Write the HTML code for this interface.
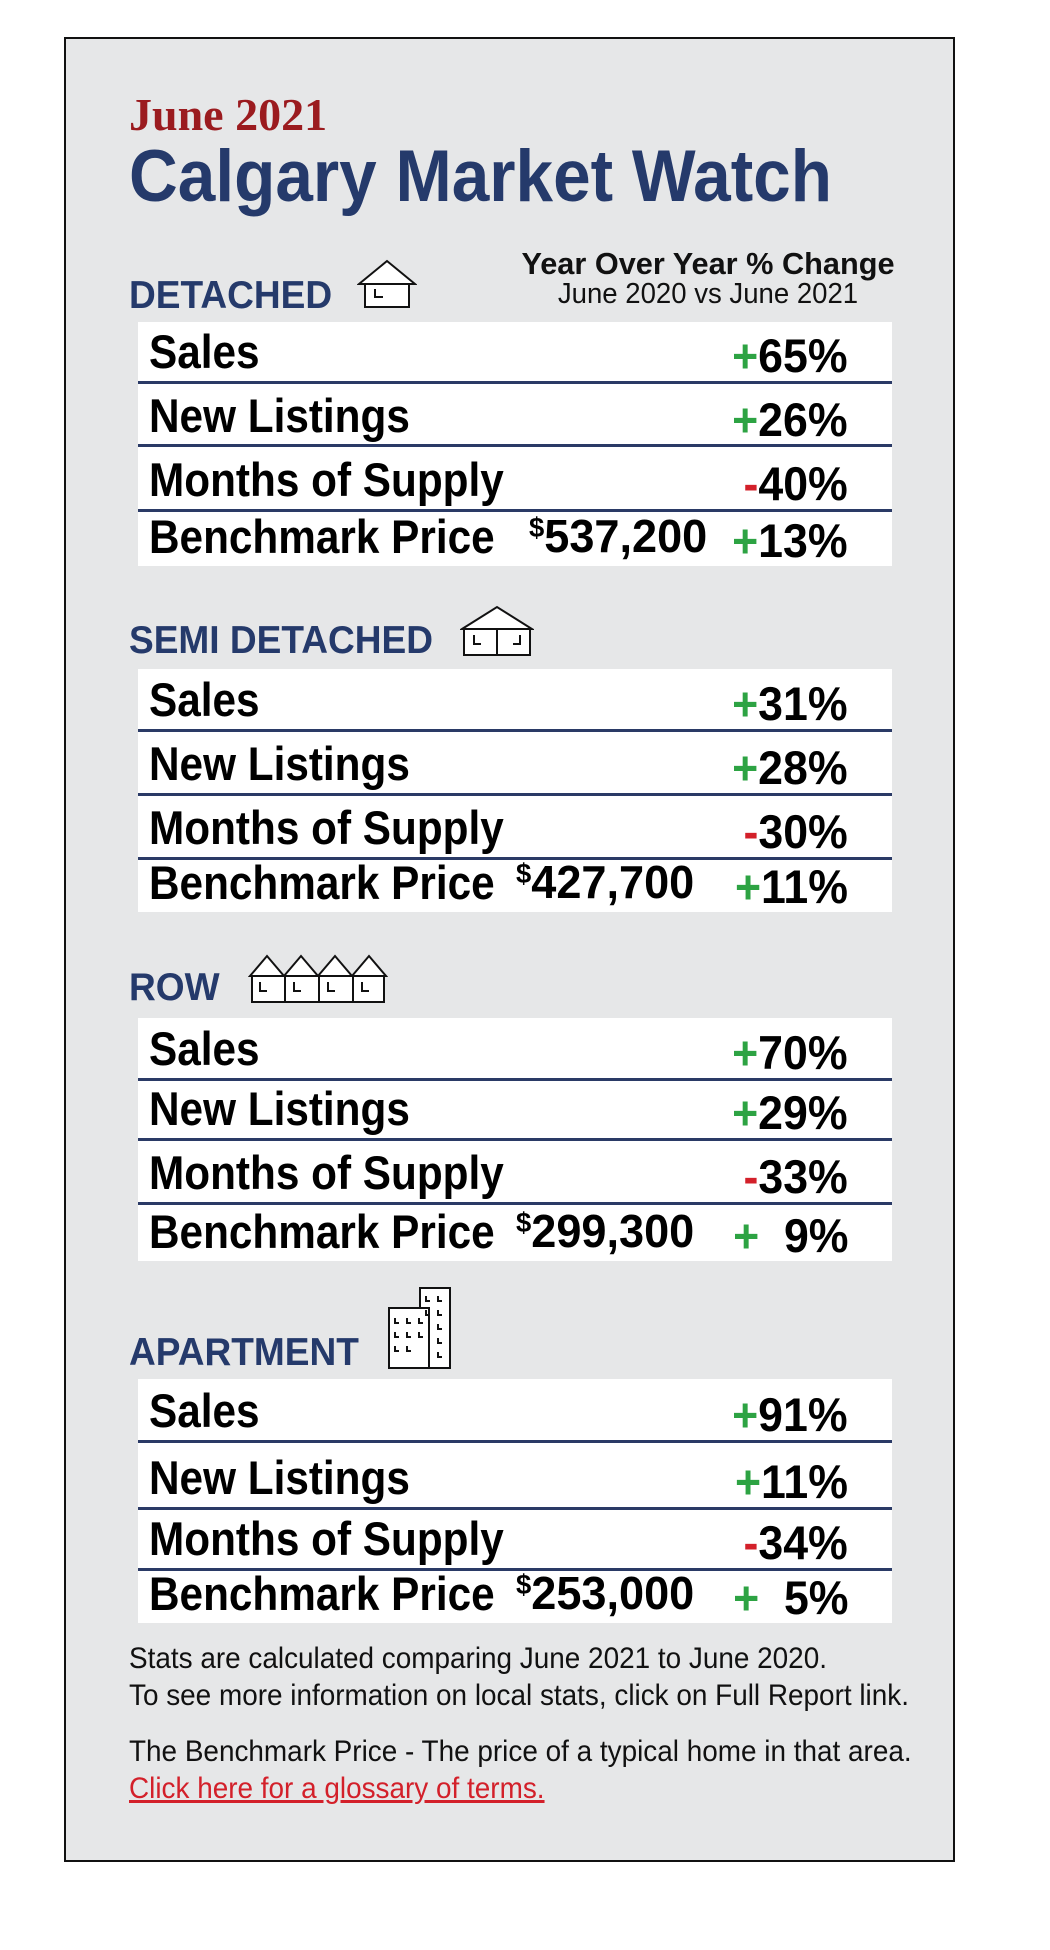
<!DOCTYPE html>
<html><head><meta charset="utf-8"><style>
*{margin:0;padding:0;box-sizing:border-box}
body{width:1050px;height:1950px;background:#fff;position:relative;overflow:hidden;font-family:"Liberation Sans",sans-serif}
.box{position:absolute;left:64px;top:37px;width:891px;height:1825px;background:#e6e7e8;border:2px solid #111}
.t{position:absolute;white-space:nowrap;line-height:1}
.hd{color:#253a6b;font-weight:bold;font-size:39px}
.tbl{position:absolute;left:138px;width:754px;background:#fff}
.row{position:absolute;left:0;width:754px}
.line{position:absolute;left:0;width:754px;height:3px;background:#2a3a66}
.lab{position:absolute;left:11px;bottom:6px;font-weight:bold;font-size:47px;color:#000;transform:scaleX(0.9);transform-origin:left bottom;white-space:nowrap;line-height:1}
.pct{position:absolute;right:44px;bottom:2px;font-weight:bold;font-size:47px;color:#000;transform:scaleX(0.95);transform-origin:right bottom;white-space:nowrap;line-height:1}
.price{position:absolute;bottom:7px;font-weight:bold;font-size:46px;color:#000;transform:scaleX(0.98);transform-origin:left bottom;white-space:nowrap;line-height:1}
.price sup{font-size:28px;vertical-align:15px}
.g{color:#2da343}.r{color:#d3202a}
.ft{position:absolute;left:129px;font-size:30px;color:#111;transform:scaleX(0.93);transform-origin:left bottom;white-space:nowrap;line-height:1}
</style></head><body>
<div class="box"></div>
<div class="t" style="left:129px;top:92px;font-size:46px;font-weight:bold;color:#9b1b1f;font-family:'Liberation Serif',serif;transform:scaleX(1.0);transform-origin:left">June 2021</div>
<div class="t" style="left:129px;top:140px;font-size:73px;font-weight:bold;color:#253a6b;transform:scaleX(0.925);transform-origin:left">Calgary Market Watch</div>
<div class="t" style="left:518px;top:248px;width:380px;text-align:center;font-weight:bold;font-size:31px;color:#111;transform:scaleX(0.99)">Year Over Year % Change</div>
<div class="t" style="left:518px;top:280px;width:380px;text-align:center;font-size:29px;color:#111;transform:scaleX(0.95)">June 2020 vs June 2021</div>

<div class="t hd" style="left:129px;top:276px;transform:scaleX(0.95);transform-origin:left">DETACHED</div>
<div class="t hd" style="left:129px;top:621px;transform:scaleX(0.95);transform-origin:left">SEMI DETACHED</div>
<div class="t hd" style="left:129px;top:968px;transform:scaleX(0.95);transform-origin:left">ROW</div>
<div class="t hd" style="left:129px;top:1333px;transform:scaleX(0.95);transform-origin:left">APARTMENT</div>

<svg style="position:absolute;left:357px;top:259px" width="60" height="50" viewBox="0 0 60 50" fill="none" stroke="#111" stroke-width="2"><path d="M2 25 L30 2 L58 25 Z" fill="#fff"/><rect x="8" y="25" width="44" height="23" fill="#fff"/><path d="M18 30v8h8"/></svg>
<svg style="position:absolute;left:460px;top:605px" width="74" height="52" viewBox="0 0 74 52" fill="none" stroke="#111" stroke-width="2"><path d="M2 24 L37 2 L72 24 Z" fill="#fff"/><rect x="4" y="24" width="66" height="26" fill="#fff"/><line x1="37" y1="24" x2="37" y2="50"/><path d="M14 30v9h7M60 30v9h-7"/></svg>
<svg style="position:absolute;left:248px;top:952px" width="140" height="52" viewBox="0 0 140 52" fill="none" stroke="#111" stroke-width="2"><g fill="#fff"><path d="M2 24 L19 4 L36 24Z M36 24 L53 4 L70 24Z M70 24 L87 4 L104 24Z M104 24 L121 4 L138 24Z"/><rect x="4" y="24" width="132" height="26"/></g><path d="M37 24v26M71 24v26M105 24v26M12 30v9h7M46 30v9h7M80 30v9h7M114 30v9h7"/></svg>
<svg style="position:absolute;left:386px;top:1286px" width="66" height="84" viewBox="0 0 66 84" fill="none" stroke="#111" stroke-width="2"><rect x="34" y="2" width="30" height="80" fill="#fff"/><rect x="3" y="22" width="40" height="60" fill="#fff"/><path d="M40 10v5h4M52 10v5h4M40 24v5h4M52 24v5h4M52 38v5h4M52 52v5h4M52 66v5h4M9 32v5h4M21 32v5h4M9 46v5h4M21 46v5h4M9 60v5h4M21 60v5h4M33 32v5h4M33 46v5h4"/></svg>

<div class="tbl" style="top:322px;height:244px">
 <div class="row" style="top:0;height:59px"><div class="lab">Sales</div><div class="pct"><span class="g">+</span>65%</div></div>
 <div class="line" style="top:59px"></div>
 <div class="row" style="top:62px;height:61px"><div class="lab">New Listings</div><div class="pct"><span class="g">+</span>26%</div></div>
 <div class="line" style="top:122px"></div>
 <div class="row" style="top:125px;height:62px"><div class="lab">Months of Supply</div><div class="pct"><span class="r">-</span>40%</div></div>
 <div class="line" style="top:187px"></div>
 <div class="row" style="top:190px;height:54px"><div class="lab">Benchmark Price</div><div class="price" style="left:391px"><sup>$</sup>537,200</div><div class="pct"><span class="g">+</span>13%</div></div>
</div>
<div class="tbl" style="top:669px;height:243px">
 <div class="row" style="top:0;height:60px"><div class="lab">Sales</div><div class="pct"><span class="g">+</span>31%</div></div>
 <div class="line" style="top:60px"></div>
 <div class="row" style="top:63px;height:61px"><div class="lab">New Listings</div><div class="pct"><span class="g">+</span>28%</div></div>
 <div class="line" style="top:124px"></div>
 <div class="row" style="top:127px;height:61px"><div class="lab">Months of Supply</div><div class="pct"><span class="r">-</span>30%</div></div>
 <div class="line" style="top:188px"></div>
 <div class="row" style="top:191px;height:52px"><div class="lab">Benchmark Price</div><div class="price" style="left:378px"><sup>$</sup>427,700</div><div class="pct"><span class="g">+</span>11%</div></div>
</div>
<div class="tbl" style="top:1018px;height:243px">
 <div class="row" style="top:0;height:60px"><div class="lab">Sales</div><div class="pct"><span class="g">+</span>70%</div></div>
 <div class="line" style="top:60px"></div>
 <div class="row" style="top:63px;height:57px"><div class="lab">New Listings</div><div class="pct"><span class="g">+</span>29%</div></div>
 <div class="line" style="top:120px"></div>
 <div class="row" style="top:123px;height:61px"><div class="lab">Months of Supply</div><div class="pct"><span class="r">-</span>33%</div></div>
 <div class="line" style="top:184px"></div>
 <div class="row" style="top:187px;height:56px"><div class="lab">Benchmark Price</div><div class="price" style="left:378px"><sup>$</sup>299,300</div><div class="pct"><span class="g">+</span>&nbsp;&nbsp;9%</div></div>
</div>
<div class="tbl" style="top:1379px;height:244px">
 <div class="row" style="top:0;height:61px"><div class="lab">Sales</div><div class="pct"><span class="g">+</span>91%</div></div>
 <div class="line" style="top:61px"></div>
 <div class="row" style="top:64px;height:64px"><div class="lab">New Listings</div><div class="pct"><span class="g">+</span>11%</div></div>
 <div class="line" style="top:128px"></div>
 <div class="row" style="top:131px;height:58px"><div class="lab">Months of Supply</div><div class="pct"><span class="r">-</span>34%</div></div>
 <div class="line" style="top:189px"></div>
 <div class="row" style="top:192px;height:52px"><div class="lab">Benchmark Price</div><div class="price" style="left:378px"><sup>$</sup>253,000</div><div class="pct"><span class="g">+</span>&nbsp;&nbsp;5%</div></div>
</div>

<div class="ft" style="top:1644px">Stats are calculated comparing June 2021 to June 2020.</div>
<div class="ft" style="top:1681px">To see more information on local stats, click on Full Report link.</div>
<div class="ft" style="top:1737px">The Benchmark Price - The price of a typical home in that area.</div>
<div class="ft" style="top:1774px;color:#d3202a;text-decoration:underline">Click here for a glossary of terms.</div>
</body></html>
